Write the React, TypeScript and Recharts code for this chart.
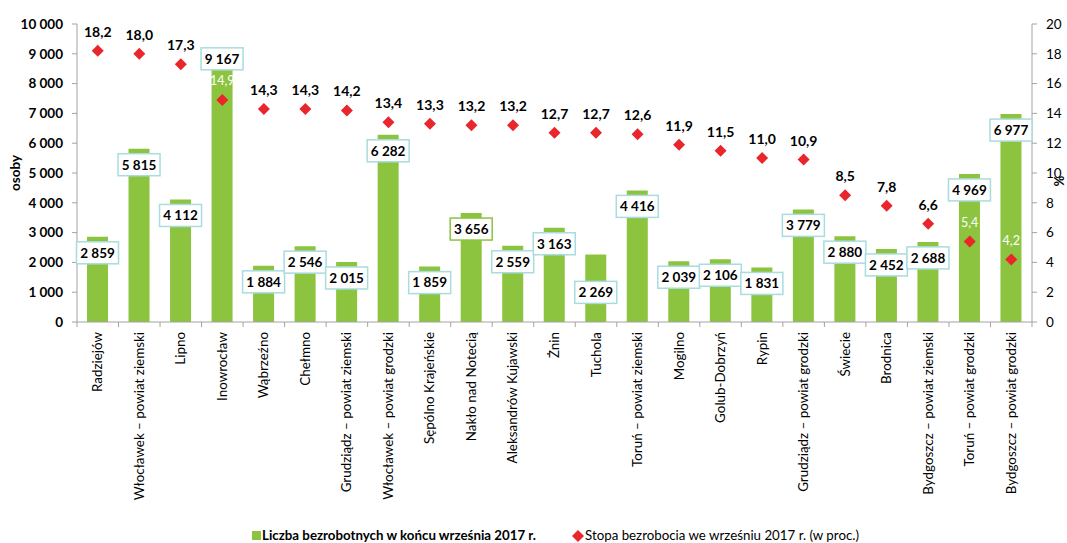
import { ComposedChart, Bar, Line, XAxis, YAxis, LabelList } from "recharts"

const regions = [
  "Radziejów",
  "Włocławek – powiat ziemski",
  "Lipno",
  "Inowrocław",
  "Wąbrzeźno",
  "Chełmno",
  "Grudziądz – powiat ziemski",
  "Włocławek – powiat grodzki",
  "Sępólno Krajeńskie",
  "Nakło nad Notecią",
  "Aleksandrów Kujawski",
  "Żnin",
  "Tuchola",
  "Toruń – powiat ziemski",
  "Mogilno",
  "Golub-Dobrzyń",
  "Rypin",
  "Grudziądz – powiat grodzki",
  "Świecie",
  "Brodnica",
  "Bydgoszcz – powiat ziemski",
  "Toruń – powiat grodzki",
  "Bydgoszcz – powiat grodzki",
]

const unemployed = [
  2859, 5815, 4112, 9167, 1884, 2546, 2015, 6282, 1859, 3656, 2559, 3163,
  2269, 4416, 2039, 2106, 1831, 3779, 2880, 2452, 2688, 4969, 6977,
]

const rate = [
  18.2, 18.0, 17.3, 14.9, 14.3, 14.3, 14.2, 13.4, 13.3, 13.2, 13.2, 12.7,
  12.7, 12.6, 11.9, 11.5, 11.0, 10.9, 8.5, 7.8, 6.6, 5.4, 4.2,
]

const countTicks = [0, 1000, 2000, 3000, 4000, 5000, 6000, 7000, 8000, 9000, 10000]
const rateTicks = [0, 2, 4, 6, 8, 10, 12, 14, 16, 18, 20]

// rate labels sitting on top of a bar are written in white
const whiteRateLabels = ["Inowrocław", "Toruń – powiat grodzki", "Bydgoszcz – powiat grodzki"]

const data = regions.map((name, i) => ({ name, count: unemployed[i], rate: rate[i] }))

const GREEN = "#8cc43f"
const RED = "#e8262b"
const AXIS = "#a3a3a3"
const FONT = "Lato, 'Open Sans', sans-serif"

const fmtCount = (n: number) => String(n).replace(/\B(?=(\d{3})+(?!\d))/g, " ")
const fmtRate = (n: number) => n.toFixed(1).replace(".", ",")

const RegionTick = (props: any) => {
  const { x, y, payload, index } = props
  const half = payload?.offset || 20.76
  return (
    <g>
      <line x1={x - half} x2={x - half} y1={y} y2={y + 5} stroke={AXIS} />
      {index === regions.length - 1 && (
        <line x1={x + half} x2={x + half} y1={y} y2={y + 5} stroke={AXIS} />
      )}
      <text
        transform={`translate(${x + 4.5},${y + 10}) rotate(-90)`}
        textAnchor="end"
        fontSize={13.4}
        fontFamily={FONT}
        fill="#000"
      >
        {payload.value}
      </text>
    </g>
  )
}

const CountLabel = (props: any) => {
  const { x, y, width, value, index } = props
  const cx = x + width / 2
  const name = regions[index]
  // Excel nudged a couple of labels away from the default spot
  const cy = name === "Tuchola" ? y + 38 : name === "Inowrocław" ? y + 10 : y + 16
  const border = name === "Nakło nad Notecią" ? GREEN : "#a8dcdf"
  return (
    <g>
      <rect x={cx - 21} y={cy - 11} width={42} height={22} fill="#fff" stroke={border} strokeWidth={1.5} />
      <text x={cx} y={cy} dy="0.36em" textAnchor="middle" fontSize={13.5} fontWeight="bold" fontFamily={FONT} fill="#000">
        {fmtCount(value)}
      </text>
    </g>
  )
}

const RateLabel = (props: any) => {
  const { x, y, value, index } = props
  const white = whiteRateLabels.includes(regions[index])
  return (
    <text
      x={x}
      y={y - 19}
      dy="0.36em"
      textAnchor="middle"
      fontSize={white ? 12.5 : 14}
      fontWeight={white ? "normal" : "bold"}
      fontFamily={FONT}
      fill={white ? "#fff" : "#000"}
    >
      {fmtRate(value)}
    </text>
  )
}

const Diamond = (props: any) => {
  const { cx, cy, index } = props
  const r = 6
  return (
    <polygon
      key={`d-${index}`}
      points={`${cx},${cy - r} ${cx + r},${cy} ${cx},${cy + r} ${cx - r},${cy}`}
      fill={RED}
    />
  )
}

export default function App() {
  return (
    <div style={{ position: "absolute", left: 0, top: 0, width: 1067, height: 543, background: "#fff", fontFamily: FONT }}>
      <ComposedChart width={1067} height={543} data={data} margin={{ top: 24, right: 0, bottom: 0, left: 0 }} barCategoryGap="49%">
        <XAxis
          dataKey="name"
          interval={0}
          height={221}
          axisLine={{ stroke: AXIS }}
          tickLine={false}
          tickSize={0}
          tickMargin={0}
          tick={<RegionTick />}
        />
        <YAxis
          yAxisId="left"
          width={77}
          domain={[0, 10000]}
          ticks={countTicks}
          interval={0}
          tickFormatter={fmtCount}
          axisLine={{ stroke: AXIS }}
          tickLine={{ stroke: AXIS }}
          tickSize={5}
          tickMargin={9}
          tick={{ fill: "#000", fontSize: 13.5, fontWeight: "bold", fontFamily: FONT }}
          label={(p: any) => {
            const vb = p.viewBox
            const cx = vb.x + 15
            const cy = vb.y + vb.height / 2
            return (
              <text x={cx} y={cy} transform={`rotate(-90 ${cx} ${cy})`} textAnchor="middle" dy="0.36em" fontSize={13.5} fontWeight="bold" fontFamily={FONT} fill="#000">
                osoby
              </text>
            )
          }}
        />
        <YAxis
          yAxisId="right"
          orientation="right"
          width={35}
          domain={[0, 20]}
          ticks={rateTicks}
          interval={0}
          axisLine={{ stroke: AXIS }}
          tickLine={{ stroke: AXIS }}
          tickSize={5}
          tickMargin={9}
          tick={{ fill: "#000", fontSize: 13.5, fontFamily: FONT }}
          label={(p: any) => {
            const vb = p.viewBox
            const cx = vb.x + 27
            const cy = vb.y + vb.height / 2 + 8
            return (
              <text x={cx} y={cy} transform={`rotate(90 ${cx} ${cy})`} textAnchor="middle" dy="0.36em" fontSize={13} fontWeight="bold" fontFamily={FONT} fill="#000">
                %
              </text>
            )
          }}
        />
        <Bar yAxisId="left" dataKey="count" fill={GREEN} barSize={21} isAnimationActive={false}>
          <LabelList dataKey="count" content={<CountLabel />} />
        </Bar>
        <Line
          yAxisId="right"
          dataKey="rate"
          stroke="none"
          dot={(p: any) => <Diamond key={`dot-${p.index}`} {...p} />}
          activeDot={false}
          isAnimationActive={false}
        >
          <LabelList dataKey="rate" content={<RateLabel />} />
        </Line>
      </ComposedChart>
      <div style={{ position: "absolute", left: 252, top: 531, width: 9, height: 9, background: GREEN }} />
      <div style={{ position: "absolute", left: 262, top: 527, fontSize: 13.3, fontWeight: "bold", lineHeight: "16px", color: "#000", whiteSpace: "nowrap" }}>
        Liczba bezrobotnych w końcu września 2017 r.
      </div>
      <svg style={{ position: "absolute", left: 572, top: 530 }} width={12} height={12}>
        <polygon points="6,0 12,6 6,12 0,6" fill={RED} />
      </svg>
      <div style={{ position: "absolute", left: 585, top: 527, fontSize: 13.3, lineHeight: "16px", color: "#000", whiteSpace: "nowrap" }}>
        Stopa bezrobocia we wrześniu 2017 r. (w proc.)
      </div>
    </div>
  )
}
